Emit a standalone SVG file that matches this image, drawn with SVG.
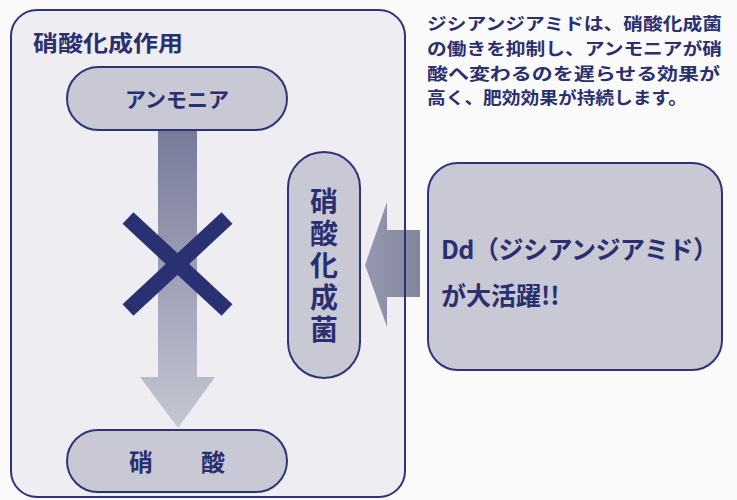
<svg xmlns="http://www.w3.org/2000/svg" width="737" height="500" viewBox="0 0 737 500">
<defs>
<style>
.jp{font-family:"Noto Sans CJK JP","Noto Sans",sans-serif;font-weight:bold;fill:#2a2f70}
.pill{fill:#c8c9d5;stroke:#2d3378;stroke-width:2}
</style>
<linearGradient id="shaft" x1="0" y1="0" x2="0" y2="1">
<stop offset="0" stop-color="#777a99"/>
<stop offset="1" stop-color="#c6c7d3"/>
</linearGradient>
<linearGradient id="harr" x1="0" y1="0" x2="1" y2="0">
<stop offset="0" stop-color="#9698b0"/>
<stop offset="1" stop-color="#83859d"/>
</linearGradient>
</defs>
<rect x="0" y="0" width="737" height="500" fill="#fafafb"/>
<g id="outer">
<rect x="11" y="10" width="394" height="487" rx="26" fill="#eeeef2"/>
<text class="jp" x="33" y="51" font-size="22" textLength="150" lengthAdjust="spacingAndGlyphs">硝酸化成作用</text>
</g>
<g id="connectors">
<path d="M158,130 H197 V377 H215 L178,428 L140,377 H158 Z" fill="url(#shaft)"/>
<path d="M365,265 L387,202 V230 H420 V297 H387 V327 Z" fill="url(#harr)"/>
<g stroke="#2a3173" stroke-width="16" stroke-linecap="butt">
<line x1="128" y1="218" x2="227" y2="310"/>
<line x1="227" y1="218" x2="128" y2="310"/>
</g>
</g>
<rect x="11" y="10" width="394" height="487" rx="26" fill="none" stroke="#2d3378" stroke-width="2"/>
<g id="ammonia">
<rect class="pill" x="67" y="67" width="220" height="63" rx="31.5"/>
<text class="jp" x="177" y="107" font-size="21" text-anchor="middle">アンモニア</text>
</g>
<g id="nitrate">
<rect class="pill" x="67" y="430" width="220" height="62" rx="31"/>
<text class="jp" x="177" y="471" font-size="24" text-anchor="middle">硝　　酸</text>
</g>
<g id="bacteria">
<rect class="pill" x="288" y="152" width="72" height="226" rx="36"/>
<text class="jp" x="324" y="187" font-size="28" writing-mode="vertical-rl" letter-spacing="4">硝酸化成菌</text>
</g>
<g id="dd">
<rect class="pill" x="428" y="163" width="294" height="207" rx="30"/>
<text class="jp" x="441" y="259" font-size="25" font-weight="500" letter-spacing="-0.5">Dd（ジシアンジアミド）</text>
<text class="jp" x="441" y="305" font-size="25" font-weight="500">が大活躍!!</text>
</g>
<g id="note" class="jp" font-size="17">
<text x="427" y="30" textLength="295" lengthAdjust="spacingAndGlyphs">ジシアンジアミドは、硝酸化成菌</text>
<text x="427" y="55" textLength="295" lengthAdjust="spacingAndGlyphs">の働きを抑制し、アンモニアが硝</text>
<text x="427" y="80" textLength="293" lengthAdjust="spacingAndGlyphs">酸へ変わるのを遅らせる効果が</text>
<text x="427" y="104" textLength="260" lengthAdjust="spacingAndGlyphs">高く、肥効効果が持続します。</text>
</g>
</svg>
